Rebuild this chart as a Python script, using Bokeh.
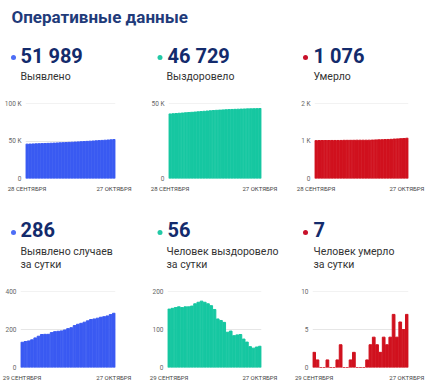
from bokeh.plotting import figure
from bokeh.layouts import column, row
from bokeh.models import Range1d, FixedTicker
from bokeh.core.properties import value
from bokeh.embed import file_html
from bokeh.resources import INLINE

# ---------------- data ----------------
title_text = "Оперативные данные"
label_start_total = "28 СЕНТЯБРЯ"
label_start_daily = "29 СЕНТЯБРЯ"
label_end = "27 ОКТЯБРЯ"

cases_total = [45912, 46045, 46182, 46322, 46468, 46624, 46789, 46963, 47138, 47313,
               47497, 47686, 47877, 48070, 48268, 48473, 48683, 48904, 49132, 49365,
               49604, 49850, 50103, 50359, 50619, 50884, 51152, 51424, 51703, 51989]
recovered_total = [43115, 43269, 43425, 43583, 43743, 43901, 44061, 44221, 44383, 44551,
                   44723, 44898, 45070, 45238, 45401, 45554, 45682, 45806, 45925, 46018,
                   46114, 46198, 46284, 46371, 46446, 46513, 46568, 46619, 46673, 46729]
deaths_total = [1012, 1014, 1015, 1015, 1015, 1016, 1016, 1016, 1017, 1020,
                1020, 1020, 1021, 1023, 1023, 1023, 1023, 1024, 1027, 1031,
                1034, 1036, 1040, 1043, 1047, 1054, 1058, 1064, 1069, 1076]

cases_daily = [133, 137, 140, 146, 156, 165, 174, 175, 175, 184, 189, 191, 193, 198, 205,
               210, 221, 228, 233, 239, 246, 253, 256, 260, 265, 268, 272, 279, 286]
recovered_daily = [154, 156, 158, 160, 158, 160, 160, 162, 168, 172, 175, 172, 168, 163, 153,
                   128, 124, 119, 93, 96, 84, 86, 87, 75, 67, 55, 51, 54, 56]
deaths_daily = [2, 1, 0, 0, 1, 0, 0, 1, 3, 0, 0, 1, 2, 0, 0,
                0, 1, 3, 4, 3, 2, 4, 3, 4, 7, 4, 6, 5, 7]

total_labels = ["Выявлено", "Выздоровело", "Умерло"]
daily_labels_1 = ["Выявлено случаев", "Человек выздоровело", "Человек умерло"]
daily_labels_2 = ["за сутки", "за сутки", "за сутки"]

ticks_cases_total = [0, 50000, 100000]
ticklabels_cases_total = ["0", "50 K", "100 K"]
ticks_recovered_total = [0, 50000]
ticklabels_recovered_total = ["0", "50 K"]
ticks_deaths_total = [0, 1000, 2000]
ticklabels_deaths_total = ["0", "1 K", "2 K"]
ticks_cases_daily = [0, 200, 400]
ticklabels_cases_daily = ["0", "200", "400"]
ticks_recovered_daily = [0, 100, 200]
ticklabels_recovered_daily = ["0", "100", "200"]
ticks_deaths_daily = [0, 5, 10]
ticklabels_deaths_daily = ["0", "5", "10"]

# ---------------- styles ----------------
FONT_NAME = "Roboto"
FONT = value(FONT_NAME)
BLUE, TEAL, RED = "#3a5af2", "#16c7a1", "#d0111e"
DOT_BLUE, DOT_TEAL, DOT_RED = "#4d6ef6", "#22c9a6", "#c8102a"
NAVY = "#132b6c"
TITLE_C = "#1f3b7a"
LABEL_C = "#333333"
W = 430


def fmt(n):
    return f"{n:,}".replace(",", " ")


def text_fig(h):
    p = figure(width=W, height=h, x_range=Range1d(0, W), y_range=Range1d(0, h),
               output_backend="svg", toolbar_location=None, min_border=0,
               x_axis_location=None, y_axis_location=None)
    p.grid.visible = False
    p.outline_line_color = None
    return p


def down(h, v):
    # distance from the top of a text panel -> panel data coordinate
    return h - v


def chart(vals, color, ticks, ticklabels, first_label, w, h, left, right, top, bottom):
    n = len(vals)
    p = figure(width=w, height=h, x_range=Range1d(-0.5, n - 0.5),
               y_range=Range1d(0, ticks[-1] * 1.002),
               output_backend="svg", toolbar_location=None,
               min_border_left=left, min_border_right=right,
               min_border_top=top, min_border_bottom=bottom)
    p.vbar(x=list(range(n)), top=vals, width=0.82, color=color)
    p.outline_line_color = None
    p.xgrid.visible = False
    p.ygrid.grid_line_color = "#e6e6e6"
    p.ygrid.grid_line_width = 1
    p.ygrid.ticker = FixedTicker(ticks=ticks)
    p.yaxis.ticker = FixedTicker(ticks=ticks)
    p.yaxis.major_label_overrides = {t: l for t, l in zip(ticks, ticklabels)}
    p.xaxis.ticker = FixedTicker(ticks=[0, n - 1])
    p.xaxis.major_label_overrides = {0: first_label, n - 1: label_end}
    for ax in (p.xaxis, p.yaxis):
        ax.axis_line_color = None
        ax.major_tick_line_color = None
        ax.minor_tick_line_color = None
        ax.major_tick_out = 0
        ax.major_tick_in = 0
        ax.minor_tick_out = 0
        ax.major_label_text_font = FONT_NAME
    p.yaxis.major_label_text_font_size = "6.5px"
    p.yaxis.major_label_text_color = "#666666"
    p.yaxis.major_label_standoff = 4
    p.xaxis.major_label_text_font_size = "6px"
    p.xaxis.major_label_text_color = "#444444"
    p.xaxis.major_label_standoff = 6
    return p


dot_x = [13.0, 159.5, 305.0]
num_x = [20.0, 167.0, 313.0]
lab_x = [20.0, 166.0, 313.0]
dot_colors = [DOT_BLUE, DOT_TEAL, DOT_RED]

# ---------------- header + totals text (page y 0..92) ----------------
HA = 92
ta = text_fig(HA)
ta.text(x=[11], y=[down(HA, 16.6)], text=[title_text], text_font=FONT,
        text_font_size="17px", text_font_style="bold", text_color=TITLE_C,
        text_baseline="alphabetic")
ta.scatter(x=dot_x, y=[down(HA, 57)] * 3, size=5, color=dot_colors, line_color=None)
ta.text(x=num_x, y=[down(HA, 55.2)] * 3,
        text=[fmt(cases_total[-1]), fmt(recovered_total[-1]), fmt(deaths_total[-1])],
        text_font=FONT, text_font_size="20px", text_font_style="bold",
        text_color=NAVY, text_baseline="alphabetic")
ta.text(x=lab_x, y=[down(HA, 75.8)] * 3, text=total_labels, text_font=FONT,
        text_font_size="10.5px", text_color=LABEL_C, text_baseline="alphabetic")

# ---------------- totals charts (page y 92..205) ----------------
c1 = chart(cases_total, BLUE, ticks_cases_total, ticklabels_cases_total,
           label_start_total, 145, 113, 25, 30, 11, 27)
c2 = chart(recovered_total, TEAL, ticks_recovered_total, ticklabels_recovered_total,
           label_start_total, 145, 113, 23, 29, 11, 27)
c3 = chart(deaths_total, RED, ticks_deaths_total, ticklabels_deaths_total,
           label_start_total, 140, 113, 24, 22, 11, 27)

# ---------------- daily text (page y 205..283) ----------------
HC = 78
tc = text_fig(HC)
tc.scatter(x=dot_x, y=[down(HC, 27)] * 3, size=5, color=dot_colors, line_color=None)
tc.text(x=num_x, y=[down(HC, 24.2)] * 3,
        text=[fmt(cases_daily[-1]), fmt(recovered_daily[-1]), fmt(deaths_daily[-1])],
        text_font=FONT, text_font_size="20px", text_font_style="bold",
        text_color=NAVY, text_baseline="alphabetic")
tc.text(x=lab_x, y=[down(HC, 45.8)] * 3, text=daily_labels_1, text_font=FONT,
        text_font_size="10.5px", text_color=LABEL_C, text_baseline="alphabetic")
tc.text(x=lab_x, y=[down(HC, 58.6)] * 3, text=daily_labels_2, text_font=FONT,
        text_font_size="10.5px", text_color=LABEL_C, text_baseline="alphabetic")

# ---------------- daily charts (page y 283..388) ----------------
c4 = chart(cases_daily, BLUE, ticks_cases_daily, ticklabels_cases_daily,
           label_start_daily, 145, 105, 20, 30, 8, 21)
c5 = chart(recovered_daily, TEAL, ticks_recovered_daily, ticklabels_recovered_daily,
           label_start_daily, 145, 105, 22, 29, 8, 21)
c6 = chart(deaths_daily, RED, ticks_deaths_daily, ticklabels_deaths_daily,
           label_start_daily, 140, 105, 22, 22, 8, 21)

layout = column(ta, row(c1, c2, c3), tc, row(c4, c5, c6))
open("out.html", "w").write(file_html(layout, INLINE))
